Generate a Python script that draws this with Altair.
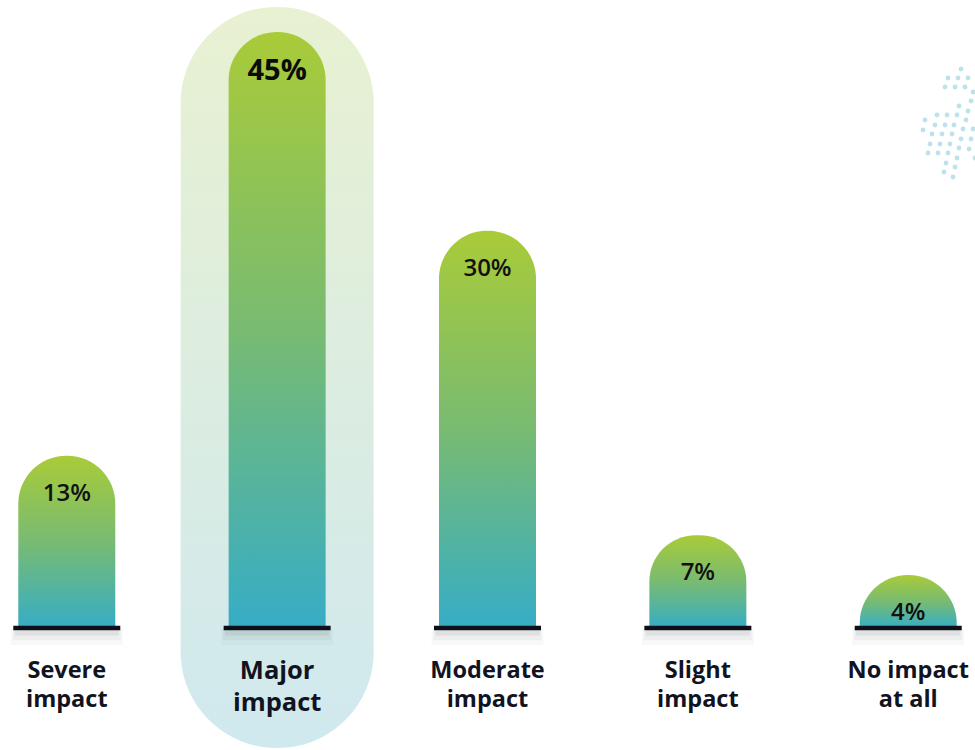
import altair as alt
import pandas as pd

categories = ["Severe impact", "Major impact", "Moderate impact", "Slight impact", "No impact at all"]
values = [13, 45, 30, 7, 4]
pct_labels = ["13%", "45%", "30%", "7%", "4%"]
cat_labels = ["Severe\nimpact", "Major\nimpact", "Moderate\nimpact", "Slight\nimpact", "No impact\nat all"]
highlight = [False, True, False, False, False]

# decorative dot cluster (top right), in pixel units of the dot layer
dot_x = [961, 948, 958, 968, 945, 955, 965, 973, 971, 959, 968, 937, 947, 957, 966,
         925, 935, 945, 954, 963, 973, 923, 932, 942, 952, 961, 971, 930, 940, 950,
         959, 969, 928, 938, 948, 957, 975, 946, 955, 944, 953]
dot_y = [69, 78, 78, 78, 87, 87, 87, 92, 101, 106, 111, 115, 115, 115, 120,
         120, 125, 125, 125, 129, 129, 130, 134, 134, 134, 139, 139, 144, 144, 144,
         148, 149, 153, 153, 153, 158, 158, 163, 167, 172, 177]

df = pd.DataFrame({
    "category": categories,
    "value": values,
    "pct": pct_labels,
    "label": cat_labels,
    "hl": highlight,
})
dots = pd.DataFrame({"dx": dot_x, "dy": dot_y})

W, H = 975, 750
Y_DOMAIN = [-9.21, 47.42]
EXT = 3.7  # extension below baseline for very short bars, so the round cap is not clamped

x_enc = alt.X("category:N", sort=categories, axis=None,
              scale=alt.Scale(paddingInner=0.545, paddingOuter=0.09))
y_scale = alt.Scale(domain=Y_DOMAIN, nice=False, zero=False)


def grad(stops):
    return alt.Gradient(gradient="linear", x1=0, y1=0, x2=0, y2=1,
                        stops=[alt.GradientStop(color=c, offset=o) for c, o in stops])


bar_grad = grad([("#a9cb38", 0), ("#78bb72", 0.5), ("#36adc6", 1)])
short_grad = grad([("#a9cb38", 0), ("#78bb72", 0.26), ("#36adc6", 0.52), ("#36adc6", 1)])
pill_grad = grad([("#e8f1d1", 0), ("#d0e9ef", 1)])

base = alt.Chart(df).transform_calculate(
    zero="0",
    bottom=f"datum.value < 6 ? {-EXT} : 0",
    maskb=f"{-EXT - 0.1}",
)

pill = base.transform_filter("datum.hl").transform_calculate(
    top="46.9", pbottom="-9.05"
).mark_bar(color=pill_grad, width=193, cornerRadius=96).encode(
    x=x_enc,
    y=alt.Y("top:Q", scale=y_scale, axis=None),
    y2="pbottom:Q",
)

bars = base.mark_bar(width=97, cornerRadiusTopLeft=48, cornerRadiusTopRight=48).encode(
    x=x_enc,
    y=alt.Y("value:Q", scale=y_scale, axis=None),
    y2="bottom:Q",
    color=alt.condition("datum.value < 6", alt.value(short_grad), alt.value(bar_grad)),
)

mask = base.transform_filter("datum.value < 6").mark_bar(
    color="white", width=101, opacity=1
).encode(
    x=x_enc,
    y=alt.Y("zero:Q", scale=y_scale, axis=None),
    y2="maskb:Q",
)

shadows = [
    base.mark_tick(color="#6b7076", opacity=op, size=sz, thickness=th, yOffset=yo).encode(
        x=x_enc, y=alt.Y("zero:Q", scale=y_scale, axis=None))
    for op, sz, th, yo in [(0.05, 112, 16, 9), (0.07, 108, 10, 7), (0.10, 104, 5, 5)]
]

baseline = base.mark_tick(color="#0e0f19", opacity=1, size=107, thickness=4.5).encode(
    x=x_enc, y=alt.Y("zero:Q", scale=y_scale, axis=None)
)

pct = base.transform_filter("!datum.hl").mark_text(
    font="Open Sans", fontWeight=600, color="#111111", fontSize=24,
    baseline="middle", dy=38
).encode(
    x=x_enc,
    y=alt.Y("value:Q", scale=y_scale, axis=None),
    text="pct:N",
)

pct_major = base.transform_filter("datum.hl").mark_text(
    font="Open Sans", fontWeight="bold", color="#0b0b0b", fontSize=29,
    baseline="middle", dy=39
).encode(
    x=x_enc,
    y=alt.Y("value:Q", scale=y_scale, axis=None),
    text="pct:N",
)

labels = base.transform_filter("!datum.hl").mark_text(
    font="Open Sans", fontWeight="bold", color="#11131f", fontSize=23.5,
    baseline="top", lineBreak="\n", lineHeight=29, dy=31
).encode(
    x=x_enc,
    y=alt.Y("zero:Q", scale=y_scale, axis=None),
    text="label:N",
)

labels_major = base.transform_filter("datum.hl").mark_text(
    font="Open Sans", fontWeight="bold", color="#11131f", fontSize=25.5,
    baseline="top", lineBreak="\n", lineHeight=32, dy=31
).encode(
    x=x_enc,
    y=alt.Y("zero:Q", scale=y_scale, axis=None),
    text="label:N",
)

main = alt.layer(pill, bars, mask, *shadows, baseline, pct, pct_major, labels, labels_major)

dot_layer = alt.Chart(dots).mark_circle(color="#bde2eb", opacity=1, size=24).encode(
    x=alt.X("dx:Q", scale=alt.Scale(domain=[0, W], nice=False, zero=False), axis=None),
    y=alt.Y("dy:Q", scale=alt.Scale(domain=[0, H], range=[0, H], nice=False, zero=False), axis=None),
)

chart = alt.layer(dot_layer, main).resolve_scale(x="independent", y="independent").properties(
    width=W, height=H, padding=0, autosize=alt.AutoSizeParams(type="none"),
    background="white",
).configure_view(stroke=None)

chart.save("out.html", embed_options={"renderer": "svg", "actions": False})
